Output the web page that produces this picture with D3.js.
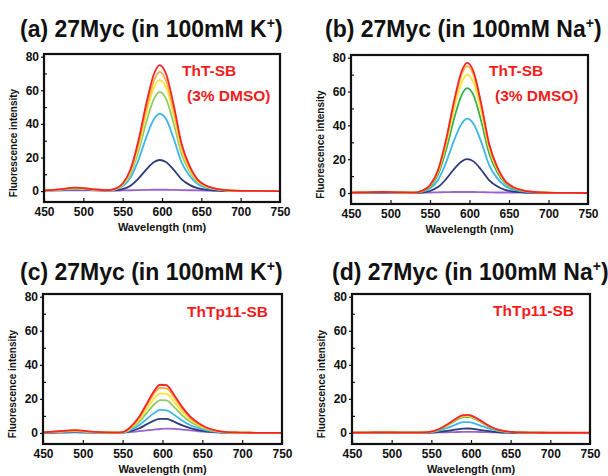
<!DOCTYPE html>
<html>
<head>
<meta charset="utf-8">
<script src="https://cdn.jsdelivr.net/npm/d3@7"></script>
<style>
  body { margin: 0; background: #fff; }
  text { font-family: "Liberation Sans", Arial, sans-serif; font-weight: bold; }
</style>
</head>
<body>
<div id="vis-container"></div>
<script>
// wavelength grid (nm) shared by all spectra
const wavelengths = [450, 470, 490, 510, 530, 540, 550, 560, 570, 580, 590, 597, 605, 615, 625, 635, 645, 655, 665, 675, 690, 710, 750];
const xTicks = [450, 500, 550, 600, 650, 700, 750];
const yTicks = [0, 20, 40, 60, 80];
const yMinor = [10, 30, 50, 70];

// (a) 27Myc in K+, ThT-SB
const a_purple = [0.2, 0.3, 0.5, 0.4, 0.3, 0.3, 0.4, 0.5, 0.6, 0.7, 0.8, 0.8, 0.8, 0.7, 0.6, 0.5, 0.4, 0.3, 0.2, 0.2, 0.1, 0.1, 0];
const a_navy = [0.3, 0.7, 1.0, 0.8, 0.4, 0.5, 1.2, 3.2, 7.4, 12.8, 17.3, 18.5, 17.3, 12.6, 7, 3.7, 1.7, 0.9, 0.5, 0.2, 0.1, 0, 0];
const a_blue = [0.2, 0.7, 1.2, 0.9, 0.4, 0.8, 2.8, 8, 18.4, 32, 43, 46, 43, 31, 17, 9.2, 4.3, 2.1, 1.1, 0.6, 0.2, 0.1, 0];
const a_green = [0.3, 0.8, 1.5, 1.0, 0.4, 1.0, 3.5, 10.2, 23.6, 41, 55, 59, 55, 40, 22, 11.8, 5.5, 2.8, 1.4, 0.7, 0.2, 0.1, 0];
const a_yellow = [0.3, 0.9, 1.8, 1.1, 0.5, 1.1, 4.0, 11.4, 26.4, 46, 62, 66, 62, 45, 24.6, 13, 6.2, 3.1, 1.6, 0.8, 0.3, 0.1, 0];
const a_orange = [0.3, 1.0, 2.0, 1.2, 0.5, 1.2, 4.2, 12.3, 28.4, 49, 66, 71, 66, 48, 26.5, 14, 6.6, 3.3, 1.7, 0.8, 0.3, 0.1, 0];
const a_red = [0.3, 1.0, 2.0, 1.2, 0.5, 1.3, 4.5, 13, 30, 52, 70, 75, 70, 51, 28, 15, 7, 3.5, 1.8, 0.9, 0.3, 0.1, 0];

// (b) 27Myc in Na+, ThT-SB
const b_purple = [0.1, 0.1, 0.2, 0.2, 0.2, 0.2, 0.3, 0.4, 0.5, 0.6, 0.6, 0.6, 0.6, 0.5, 0.4, 0.3, 0.3, 0.2, 0.2, 0.1, 0.1, 0, 0];
const b_navy = [0.1, 0.2, 0.3, 0.2, 0.1, 0.3, 1.2, 3.5, 8, 13.9, 18.7, 20, 18.7, 13.6, 7.5, 4, 1.9, 0.9, 0.5, 0.2, 0.1, 0, 0];
const b_blue = [0.1, 0.3, 0.4, 0.3, 0.2, 0.8, 2.6, 7.6, 17.6, 30.5, 41, 44, 41, 30, 16.4, 8.8, 4.1, 2.1, 1.1, 0.5, 0.2, 0.1, 0];
const b_green = [0.2, 0.3, 0.5, 0.3, 0.2, 1.1, 3.7, 10.7, 24.8, 43, 57.9, 62, 57.9, 42.2, 23.2, 12.4, 5.8, 2.9, 1.5, 0.7, 0.2, 0.1, 0];
const b_yellow = [0.2, 0.4, 0.5, 0.4, 0.2, 1.2, 4.2, 12.1, 28, 48.5, 65.3, 70, 65.3, 47.6, 26, 14, 6.5, 3.3, 1.7, 0.8, 0.3, 0.1, 0];
const b_orange = [0.2, 0.4, 0.6, 0.4, 0.2, 1.3, 4.5, 13, 30, 52, 70, 75, 70, 51, 28, 15, 7, 3.5, 1.8, 0.9, 0.3, 0.1, 0];
const b_red = [0.2, 0.4, 0.6, 0.4, 0.2, 1.3, 4.6, 13.3, 30.8, 53.4, 72, 77, 72, 52.4, 28.8, 15.4, 7.2, 3.6, 1.8, 0.9, 0.3, 0.1, 0];

// (c) 27Myc in K+, ThTp11-SB
const c_purple = [0.1, 0.2, 0.3, 0.2, 0.1, 0.1, 0.2, 0.5, 1, 1.5, 2, 2.3, 2.5, 2.4, 2, 1.5, 1, 0.6, 0.3, 0.2, 0.1, 0, 0];
const c_navy = [0.1, 0.3, 0.5, 0.3, 0.1, 0.1, 0.2, 1, 2.6, 5, 7.4, 8.3, 8.2, 6.5, 4.4, 2.8, 1.7, 0.9, 0.5, 0.2, 0.1, 0, 0];
const c_blue = [0.2, 0.5, 0.8, 0.4, 0.2, 0.1, 0.2, 1.7, 4.3, 8.1, 11.9, 13.5, 13.3, 10.5, 7.1, 4.5, 2.8, 1.5, 0.8, 0.4, 0.1, 0, 0];
const c_green = [0.2, 0.7, 1.1, 0.6, 0.2, 0.1, 0.3, 2.4, 6.1, 11.6, 17, 19.3, 19.1, 15, 10.2, 6.5, 4, 2.2, 1.1, 0.5, 0.2, 0.1, 0];
const c_yellow = [0.3, 0.8, 1.3, 0.7, 0.3, 0.2, 0.4, 2.9, 7.4, 13.9, 20.5, 23.2, 22.9, 18, 12.3, 7.8, 4.7, 2.6, 1.3, 0.7, 0.2, 0.1, 0];
const c_orange = [0.3, 0.9, 1.5, 0.7, 0.3, 0.2, 0.5, 3.3, 8.4, 15.9, 23.4, 26.4, 26.2, 20.5, 14, 8.9, 5.4, 3, 1.5, 0.7, 0.3, 0.1, 0];
const c_red = [0.3, 1.0, 1.6, 0.8, 0.3, 0.2, 0.5, 3.5, 9, 17, 25, 28.3, 28, 22, 15, 9.5, 5.8, 3.2, 1.6, 0.8, 0.3, 0.1, 0];

// (d) 27Myc in Na+, ThTp11-SB
const d_purple = [0, 0, 0.1, 0.1, 0.1, 0.1, 0.2, 0.3, 0.4, 0.5, 0.6, 0.6, 0.6, 0.5, 0.4, 0.3, 0.2, 0.1, 0.1, 0, 0, 0, 0];
const d_navy = [0, 0.1, 0.1, 0.1, 0.1, 0.1, 0.2, 0.6, 1.2, 1.9, 2.5, 2.6, 2.2, 1.5, 0.9, 0.4, 0.2, 0.1, 0.1, 0, 0, 0, 0];
const d_blue = [0.1, 0.1, 0.2, 0.1, 0.1, 0.2, 0.5, 1.4, 2.9, 4.8, 6.3, 6.4, 5.5, 3.8, 2.2, 1.1, 0.5, 0.3, 0.2, 0.1, 0.1, 0, 0];
const d_green = [0.1, 0.2, 0.3, 0.2, 0.2, 0.3, 0.7, 2, 4.4, 7.1, 9.3, 9.4, 8.2, 5.7, 3.2, 1.6, 0.8, 0.4, 0.3, 0.2, 0.1, 0, 0];
const d_yellow = [0.1, 0.2, 0.3, 0.2, 0.2, 0.3, 0.7, 2.2, 4.6, 7.5, 9.8, 9.9, 8.6, 6, 3.4, 1.7, 0.8, 0.5, 0.3, 0.2, 0.1, 0, 0];
const d_orange = [0.1, 0.2, 0.3, 0.2, 0.2, 0.3, 0.8, 2.2, 4.8, 7.8, 10.2, 10.3, 8.9, 6.2, 3.5, 1.7, 0.9, 0.5, 0.3, 0.2, 0.1, 0.1, 0];
const d_red = [0.1, 0.2, 0.3, 0.2, 0.2, 0.3, 0.8, 2.3, 4.9, 8.0, 10.5, 10.6, 9.2, 6.4, 3.6, 1.8, 0.9, 0.5, 0.3, 0.2, 0.1, 0.1, 0.1];

const width = 608;
const height = 476;

const svg = d3.select("#vis-container")
  .append("svg")
  .attr("width", width)
  .attr("height", height);

// panel frames and labels
const panels = [
  { id: "a", left: 44, right: 280, top: 54, bottom: 202, title: "(a) 27Myc (in 100mM K", titleX: 20, titleY: 37,
    label: ["ThT-SB", "(3% DMSO)"], labelX: [182, 187], labelY: [76, 101], green: "#8fca68",
    series: [a_purple, a_navy, a_blue, a_green, a_yellow, a_orange, a_red] },
  { id: "b", left: 351, right: 588, top: 55, bottom: 204, title: "(b) 27Myc (in 100mM Na", titleX: 325, titleY: 37,
    label: ["ThT-SB", "(3% DMSO)"], labelX: [489, 495], labelY: [76, 101], green: "#33b04f",
    series: [b_purple, b_navy, b_blue, b_green, b_yellow, b_orange, b_red] },
  { id: "c", left: 43, right: 282, top: 294, bottom: 444, title: "(c) 27Myc (in 100mM K", titleX: 20, titleY: 280,
    label: ["ThTp11-SB"], labelX: [187], labelY: [317], green: "#8fca68",
    series: [c_purple, c_navy, c_blue, c_green, c_yellow, c_orange, c_red] },
  { id: "d", left: 352, right: 590, top: 294, bottom: 444, title: "(d) 27Myc (in 100mM Na", titleX: 332, titleY: 280,
    label: ["ThTp11-SB"], labelX: [493], labelY: [316], green: "#33b04f",
    series: [d_purple, d_navy, d_blue, d_green, d_yellow, d_orange, d_red] }
];

panels.forEach((p) => {
  const colors = ["#9b62d2", "#2d3c78", "#3cb6e8", p.green, "#f7e43c", "#f9ae3a", "#f2262a"];

  const xScale = d3.scaleLinear().domain([450, 750]).range([p.left, p.right]);
  const yScale = d3.scaleLinear().domain([-6.5, 81.6]).range([p.bottom, p.top]);

  const g = svg.append("g");

  // title with superscript +
  const t = g.append("text")
    .attr("x", p.titleX)
    .attr("y", p.titleY)
    .attr("font-size", "23px")
    .attr("fill", "#111");
  t.append("tspan").text(p.title);
  t.append("tspan").attr("dy", -9).attr("font-size", "14px").text("+");
  t.append("tspan").attr("dy", 9).text(")");

  // clip to frame
  g.append("clipPath")
    .attr("id", "clip-" + p.id)
    .append("rect")
    .attr("x", p.left)
    .attr("y", p.top)
    .attr("width", p.right - p.left)
    .attr("height", p.bottom - p.top);

  const line = d3.line()
    .x((d, i) => xScale(wavelengths[i]))
    .y((d) => yScale(d))
    .curve(d3.curveMonotoneX);

  g.append("g")
    .attr("clip-path", `url(#clip-${p.id})`)
    .selectAll("path")
    .data(p.series)
    .enter()
    .append("path")
    .attr("d", line)
    .attr("fill", "none")
    .attr("stroke", (d, i) => colors[i])
    .attr("stroke-width", 1.8)
    .attr("stroke-linejoin", "round");

  // frame
  g.append("rect")
    .attr("x", p.left)
    .attr("y", p.top)
    .attr("width", p.right - p.left)
    .attr("height", p.bottom - p.top)
    .attr("fill", "none")
    .attr("stroke", "#111")
    .attr("stroke-width", 2.2);

  // x axis (ticks point inward)
  g.append("g")
    .attr("transform", `translate(0,${p.bottom})`)
    .call(d3.axisBottom(xScale).tickValues(xTicks).tickSize(-4).tickPadding(5).tickFormat(d3.format("d")))
    .call((ax) => ax.select(".domain").remove())
    .call((ax) => ax.selectAll("line").attr("stroke", "#111").attr("stroke-width", 1.2))
    .call((ax) => ax.selectAll("text").attr("font-size", "12px").attr("fill", "#111"));

  // y axis
  g.append("g")
    .attr("transform", `translate(${p.left},0)`)
    .call(d3.axisLeft(yScale).tickValues(yTicks).tickSize(3).tickPadding(2))
    .call((ax) => ax.select(".domain").remove())
    .call((ax) => ax.selectAll("line").attr("stroke", "#111").attr("stroke-width", 1.2))
    .call((ax) => ax.selectAll("text").attr("font-size", "12px").attr("fill", "#111"));

  // minor y ticks (inward)
  g.append("g")
    .attr("transform", `translate(${p.left},0)`)
    .call(d3.axisRight(yScale).tickValues(yMinor).tickSize(3).tickFormat(""))
    .call((ax) => ax.select(".domain").remove())
    .call((ax) => ax.selectAll("line").attr("stroke", "#111").attr("stroke-width", 1.2));

  // axis titles
  g.append("text")
    .attr("x", (p.left + p.right) / 2)
    .attr("y", p.bottom + 29)
    .attr("text-anchor", "middle")
    .attr("font-size", "11px")
    .attr("fill", "#111")
    .text("Wavelength (nm)");

  g.append("text")
    .attr("transform", `translate(${p.left - 27},${(p.top + p.bottom) / 2 + 15}) rotate(-90)`)
    .attr("text-anchor", "middle")
    .attr("font-size", "10px")
    .attr("fill", "#111")
    .text("Fluorescence intensity");

  // red compound label
  p.label.forEach((s, i) => {
    g.append("text")
      .attr("x", p.labelX[i])
      .attr("y", p.labelY[i])
      .attr("font-size", "15.5px")
      .attr("fill", "#f21c1c")
      .text(s);
  });
});
</script>
</body>
</html>
